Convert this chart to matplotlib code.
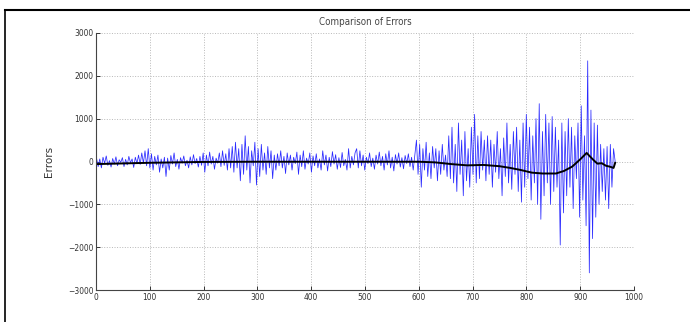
import numpy as np
import matplotlib.pyplot as plt
from matplotlib.lines import Line2D

# error values, roughly every third sample (x = 1..965)
err_a = [80, -120, 60, -150, 100, -40, 130, -90, 20, -130, 70, -60, 110, -100, 40, -20, 90,
         -120, 50, -80, 120, -30, 60, -140, 100, -50, 150, -70, 200, -40, 250, -100, 300, -150]
err_b = [180, -200, 120, -80, 150, -250, 60, -150, 100, -350, 80, -200, 140, -60, 200, -120, 50,
         -180, 90, -40, 130, -100, 30, -150, 110, -80, 160, -50, 70, -130, 120, -90, 200]
err_c = [-250, 150, -100, 220, -60, 120, -180, 80, -40, 200, -120, 250, -90, 180, -200, 300, -150]
err_d = [350, -250, 450, -150, 300, -450, 400, -300, 600, -200, 350, -500, 250, -100, 450, -550,
         300, -350, 400, -200, 200, -300, 350, -150, 250, -400, 150]
err_e = [-200, 180, -100, 250, -150, 120, -280, 200, -80, 150, -200, 100, -50, 220, -300, 150,
         -120, 250, -180, 80, -60, 200, -250, 130, -100, 180, -150, 60, -200, 250, -80, 150, -220,
         100, -120, 230, -60, 160, -180, 90, -140, 210, -100, 50, -200, 300, -150, 120, -80, 200]
err_f = [300, -150, 250, -100, 150, -200, 100, -50, 200, -120, 80, -180, 150, -60, 220, -100, 120,
         -200, 180, -80, 250, -150, 100, -220, 160, -60, 200, -130, 90, -170, 140, -50, 180, -120,
         100, -200, 150]
err_g = [500, -300, 400, -600, 300, -200, 450, -350, 200, -400, 350, -150, 300, -450, 250, -300,
         400, -200, 150, -350]
err_h = [600, -400, 800, -500, 400, -700, 900, -300, 500, -800, 700, -450, 300, -600, 800, -300,
         1100, -500, 600, -400, 700, -200, 500]
err_i = [-450, 600, -300, 500, -600, 400, -250, 700, -400, 300, -800, 550, -350, 900, -500, 400,
         -650, 700, -300, 800, -700, 500, -950]
err_j = [900, -600, 1100, -400, 800, -900, 600, -500, 1000, -1000, 1350, -1350, 700, -800, 1100,
         -500, 900, -1000, 1050, -700, 800, -600, 500]
err_k = [-1950, 900, -1200, 700, -800, 1000, -600, 800, -1100, 600, -400, 900, -1300, 1300]
err_l = [-900, 600, -1500, 2350, -2600, 1200, -1800, 900, -1300, 850, -1000, 400, -700, 300, -900,
         350, -1100, 400, -600, 300, 0]

errors = (err_a + err_b + err_c + err_d + err_e + err_f + err_g + err_h + err_i + err_j
          + err_k + err_l)
err_x = np.linspace(1, 965, len(errors))

# smoothed curve (black)
trend_x = [1, 50, 100, 150, 200, 300, 400, 500, 600, 630, 660, 690, 720, 750, 770, 790, 810,
           830, 855, 870, 885, 900, 912, 918, 925, 932, 940, 948, 955, 962, 965]
trend_y = [-60, -45, -30, -20, -10, -5, -5, -5, -5, -20, -60, -90, -80, -110, -150, -200, -260,
           -280, -280, -220, -120, 50, 200, 120, 30, -50, -40, -100, -120, -150, -30]

fig = plt.figure(figsize=(6.9, 3.22), dpi=100)
ax = fig.add_axes([96 / 690, 32 / 322, 538 / 690, 257 / 322])

ax.plot(err_x, errors, color='#2a2aff', lw=0.55)
ax.plot(trend_x, trend_y, color='black', lw=1.4)

ax.set_xlim(0, 1000)
ax.set_ylim(-3000, 3000)
ax.set_xticks(range(0, 1001, 100))
ax.set_yticks(range(-3000, 3001, 1000))
ax.grid(True, ls=':', color='#b8b8b8', lw=0.7)
ax.tick_params(direction='in', length=3, width=0.7, labelsize=6, pad=2, colors='#333333')
for lbl in ax.get_xticklabels() + ax.get_yticklabels():
    lbl.set_fontstretch('condensed')
for s in ['top', 'right']:
    ax.spines[s].set_visible(False)
for s in ['left', 'bottom']:
    ax.spines[s].set_color('#444444')
    ax.spines[s].set_linewidth(0.8)

ax.set_title('Comparison of Errors', fontsize=7, fontstretch='condensed', color='#444444', pad=6)
ax.set_ylabel('Errors', fontsize=7.5, color='#333333', labelpad=10)

# page border around the figure
fig.add_artist(Line2D([5 / 690, 1], [312 / 322, 312 / 322], color='black', lw=1.5))
fig.add_artist(Line2D([5 / 690, 5 / 690], [0, 312 / 322], color='black', lw=1.2))

fig.savefig('out.png', dpi=100)
